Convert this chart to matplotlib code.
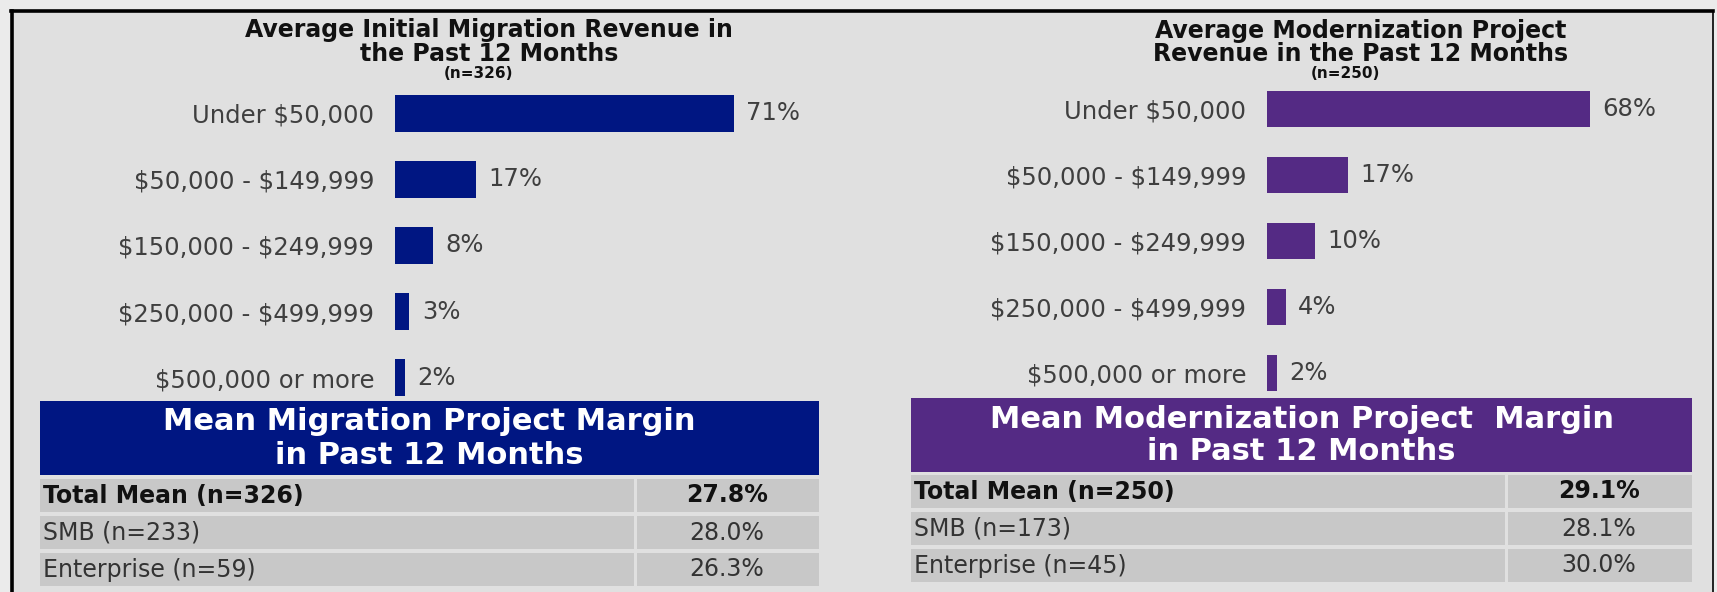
import matplotlib
matplotlib.use("Agg")
import matplotlib.pyplot as plt
from matplotlib.patches import Rectangle

plt.rcParams['font.family'] = ['DejaVu Sans']
plt.rcParams['text.parse_math'] = False

categories = ["Under $50,000", "$50,000 - $149,999", "$150,000 - $249,999",
              "$250,000 - $499,999", "$500,000 or more"]
migration = [71, 17, 8, 3, 2]
modernization = [68, 17, 10, 4, 2]

mig_title = ["Average Initial Migration Revenue in", "the Past 12 Months", "(n=326)"]
mod_title = ["Average Modernization Project", "Revenue in the Past 12 Months", "(n=250)"]

mig_table_title = ["Mean Migration Project Margin", "in Past 12 Months"]
mig_rows = ["Total Mean (n=326)", "SMB (n=233)", "Enterprise (n=59)"]
mig_vals = ["27.8%", "28.0%", "26.3%"]

mod_table_title = ["Mean Modernization Project  Margin", "in Past 12 Months"]
mod_rows = ["Total Mean (n=250)", "SMB (n=173)", "Enterprise (n=45)"]
mod_vals = ["29.1%", "28.1%", "30.0%"]

BLUE = "#001682"
PURPLE = "#542a84"
BG = "#e0e0e0"
CELL = "#c8c8c8"
LABEL = "#3f3f3f"

W, H = 1717, 592
fig = plt.figure(figsize=(W / 100, H / 100), dpi=100)
fig.patch.set_facecolor("#ebebeb")

# overlay in pixel coords (y down)
ov = fig.add_axes([0, 0, 1, 1])
ov.set_xlim(0, W)
ov.set_ylim(H, 0)
ov.axis("off")
ov.add_patch(Rectangle((12, 11), 1701, 600, facecolor=BG, edgecolor="none"))
ov.plot([12, 12], [11, H], color="black", lw=2.6)
ov.plot([11, 1713], [11, 11], color="black", lw=2.6)
ov.plot([1713, 1713], [11, H], color="black", lw=1.2)


def title(lines, cx, ys, ncx):
    ov.text(cx, ys[0], lines[0], ha="center", va="center", fontsize=17,
            fontweight="bold", color="#111111")
    ov.text(cx, ys[1], lines[1], ha="center", va="center", fontsize=17,
            fontweight="bold", color="#111111")
    ov.text(ncx, ys[2], lines[2], ha="center", va="center", fontsize=11,
            fontweight="bold", color="#111111")


def bars(rect, values, color):
    ax = fig.add_axes([rect[0] / W, 1 - rect[3] / H, rect[2] / W, (rect[3] - rect[1]) / H])
    ax.patch.set_alpha(0)
    ypos = range(len(categories))
    ax.barh(ypos, values, height=0.56, color=color)
    ax.set_xlim(0, 100)
    ax.set_ylim(len(categories) - 0.5, -0.5)
    ax.set_yticks(list(ypos))
    ax.set_yticklabels(categories, fontsize=17.5, color=LABEL)
    ax.tick_params(axis="y", length=0, pad=15)
    ax.set_xticks([])
    for s in ax.spines.values():
        s.set_visible(False)
    for y, v in zip(ypos, values):
        ax.text(v + 2.6, y, f"{v}%", va="center", ha="left", fontsize=17.5, color=LABEL)


def table(x0, x1, xs, hy0, hy1, rows_y, head_lines, head_ys, rows, vals, color):
    ov.add_patch(Rectangle((x0, hy0), x1 - x0, hy1 - hy0, facecolor=color, edgecolor="none"))
    for line, y in zip(head_lines, head_ys):
        ov.text((x0 + x1) / 2, y, line, ha="center", va="center", fontsize=22,
                fontweight="bold", color="white")
    for i, ((ry0, ry1), name, val) in enumerate(zip(rows_y, rows, vals)):
        ov.add_patch(Rectangle((x0, ry0), xs - x0 - 1.5, ry1 - ry0, facecolor=CELL, edgecolor="none"))
        ov.add_patch(Rectangle((xs + 1.5, ry0), x1 - xs - 1.5, ry1 - ry0, facecolor=CELL, edgecolor="none"))
        w = "bold" if i == 0 else "normal"
        c = "#111111" if i == 0 else "#333333"
        ov.text(x0 + 3, (ry0 + ry1) / 2, name, ha="left", va="center", fontsize=17,
                fontweight=w, color=c)
        ov.text((xs + x1) / 2, (ry0 + ry1) / 2, val, ha="center", va="center", fontsize=17,
                fontweight=w, color=c)


title(mig_title, 489, [30, 54, 74], 478)
title(mod_title, 1361, [31, 54, 74], 1345)

bars((395, 80, 477, 411), migration, BLUE)
bars((1267, 76, 475, 406), modernization, PURPLE)

table(40, 819, 635, 401, 475, [(479, 512), (516, 549), (553, 586)],
      mig_table_title, [422, 455], mig_rows, mig_vals, BLUE)
table(911, 1692, 1506, 398, 472, [(475, 508), (512, 545), (549, 582)],
      mod_table_title, [419, 452], mod_rows, mod_vals, PURPLE)

fig.savefig("out.png", dpi=100, facecolor=fig.get_facecolor())
